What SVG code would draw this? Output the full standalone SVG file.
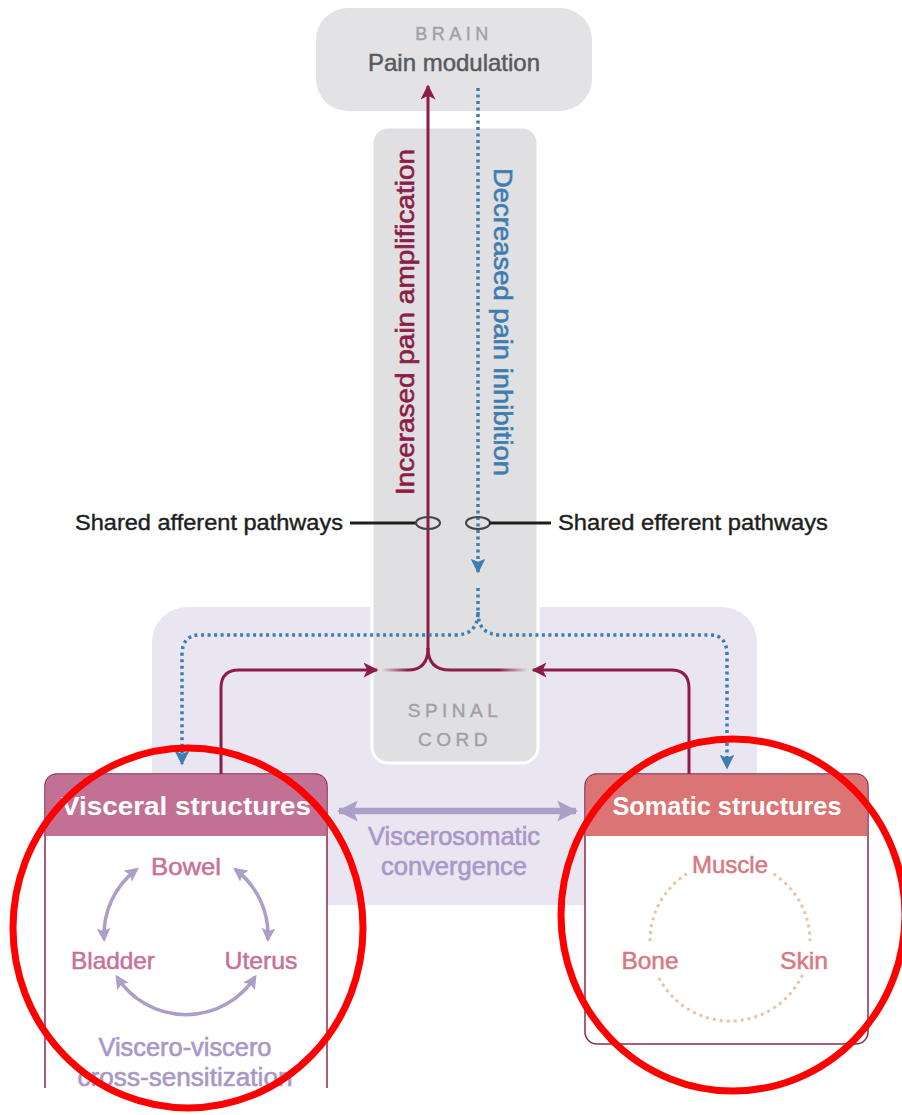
<svg xmlns="http://www.w3.org/2000/svg" width="902" height="1115" viewBox="0 0 902 1115">
<style>
text{font-family:"Liberation Sans","DejaVu Sans",sans-serif}
.crim{stroke:#8c1c48;stroke-width:3;fill:none}
.blue{stroke:#3f7db0;stroke-width:3.5;fill:none;stroke-dasharray:3 3.5}
.lav{stroke:#ad9ec8;stroke-width:3.5;fill:none}
.peach{stroke:#eac2a4;stroke-width:3;fill:none;stroke-dasharray:3 4}
.hdr{fill:#fff;font-weight:bold;font-size:26px;text-anchor:middle}
.vis{fill:#c8709a;stroke:#c8709a;stroke-width:0.5;font-size:24px;text-anchor:middle}
.som{fill:#d87880;stroke:#d87880;stroke-width:0.5;font-size:24px;text-anchor:middle}
.lavt{fill:#a898c8;stroke:#a898c8;stroke-width:0.6;font-size:25px;text-anchor:middle}
.cap{fill:#a0a0a6;stroke:#a0a0a6;stroke-width:0.4;font-size:19px;letter-spacing:4.5px;text-anchor:middle}
.shared{fill:#1e1e1e;stroke:#1e1e1e;stroke-width:0.4;font-size:22px}
.ring{fill:none;stroke:#ff0000;stroke-width:7}
</style>
<defs>
<marker id="aCrim" viewBox="0 0 10 10" refX="9" refY="5" markerWidth="6" markerHeight="5" markerUnits="strokeWidth" orient="auto"><path d="M0,0 L10,5 L0,10 L2.5,5 Z" fill="#8c1c48"/></marker>
<marker id="aBlue" viewBox="0 0 10 10" refX="9" refY="5" markerWidth="4.8" markerHeight="4.2" markerUnits="strokeWidth" orient="auto"><path d="M0,0 L10,5 L0,10 L2,5 Z" fill="#3f7db0"/></marker>
<marker id="aLav" viewBox="0 0 10 10" refX="8" refY="5" markerWidth="4.2" markerHeight="4" markerUnits="strokeWidth" orient="auto-start-reverse"><path d="M0,0 L10,5 L0,10 L2,5 Z" fill="#ad9ec8"/></marker>
<marker id="aLavBig" viewBox="0 0 10 10" refX="9" refY="5" markerWidth="3.4" markerHeight="3.2" markerUnits="strokeWidth" orient="auto-start-reverse"><path d="M0,0 L10,5 L0,10 L2,5 Z" fill="#ad9ec8"/></marker>
<linearGradient id="fadeL" gradientUnits="userSpaceOnUse" x1="381" y1="0" x2="408" y2="0"><stop offset="0" stop-color="#8c1c48" stop-opacity="0"/><stop offset="1" stop-color="#8c1c48"/></linearGradient>
<linearGradient id="fadeR" gradientUnits="userSpaceOnUse" x1="498" y1="0" x2="528" y2="0"><stop offset="0" stop-color="#8c1c48"/><stop offset="1" stop-color="#8c1c48" stop-opacity="0"/></linearGradient>
<clipPath id="crop"><rect x="0" y="0" width="902" height="1088"/></clipPath>
</defs>

<g id="background">
<rect x="152" y="607" width="605" height="298" rx="35" fill="#e9e6f1"/>
</g>

<g id="brain">
<rect x="316" y="8" width="276" height="103" rx="32" fill="#e3e3e5"/>
<text x="454" y="40" class="cap" style="font-size:18px" fill="#9a9aa2">BRAIN</text>
<text x="454" y="71" font-size="24" fill="#5a5a5e" stroke="#5a5a5e" stroke-width="0.5" text-anchor="middle" textLength="172" lengthAdjust="spacingAndGlyphs">Pain modulation</text>
</g>

<g id="spinal-cord">
<rect x="372" y="127" width="166" height="636" rx="16" fill="#e0e0e2" stroke="#ffffff" stroke-width="3"/>
<text x="455" y="717" class="cap">SPINAL</text>
<text x="455" y="746" class="cap">CORD</text>
</g>

<g id="connectors">
<path class="crim" d="M428,650 L428,86" marker-end="url(#aCrim)"/>
<path class="crim" d="M428,648 Q428,670 408,670"/>
<line x1="381" y1="670" x2="408" y2="670" stroke="url(#fadeL)" stroke-width="3"/>
<path class="crim" d="M428,648 Q428,670 450,670 L498,670"/>
<line x1="498" y1="670" x2="528" y2="670" stroke="url(#fadeR)" stroke-width="3"/>
<path class="crim" d="M221,775 L221,688 Q221,670 239,670 L377,670" marker-end="url(#aCrim)"/>
<path class="crim" d="M689,775 L689,688 Q689,670 671,670 L533,670" marker-end="url(#aCrim)"/>
<path class="blue" d="M478,88 L478,572" marker-end="url(#aBlue)"/>
<path class="blue" d="M478,588 L478,612 Q478,635 455,635 L200,635 Q182,635 182,655 L182,764" marker-end="url(#aBlue)"/>
<path class="blue" d="M478,612 Q478,635 501,635 L710,635 Q727,635 727,655 L727,768" marker-end="url(#aBlue)"/>
<line x1="350" y1="523" x2="417" y2="523" stroke="#1e1e1e" stroke-width="3"/>
<ellipse cx="428" cy="523" rx="12" ry="6" fill="none" stroke="#444" stroke-width="2"/>
<ellipse cx="478" cy="523" rx="12" ry="6" fill="none" stroke="#444" stroke-width="2"/>
<line x1="489" y1="523" x2="551" y2="523" stroke="#1e1e1e" stroke-width="3"/>
<line x1="339" y1="811" x2="576" y2="811" style="stroke:#ad9ec8;stroke-width:6.5;fill:none" marker-start="url(#aLavBig)" marker-end="url(#aLavBig)"/>
</g>

<g id="pathway-labels">
<text transform="translate(414,322) rotate(-90)" font-size="26" fill="#8c1c48" stroke="#8c1c48" stroke-width="0.6" text-anchor="middle" textLength="346" lengthAdjust="spacingAndGlyphs">Incerased pain amplification</text>
<text transform="translate(494,322) rotate(90)" font-size="26" fill="#3f7db0" stroke="#3f7db0" stroke-width="0.6" text-anchor="middle" textLength="308" lengthAdjust="spacingAndGlyphs">Decreased pain inhibition</text>
<text x="75" y="530" class="shared" textLength="268" lengthAdjust="spacingAndGlyphs">Shared afferent pathways</text>
<text x="558" y="530" class="shared" textLength="270" lengthAdjust="spacingAndGlyphs">Shared efferent pathways</text>
<text x="454" y="845" class="lavt" textLength="172" lengthAdjust="spacingAndGlyphs">Viscerosomatic</text>
<text x="454" y="875" class="lavt" textLength="146" lengthAdjust="spacingAndGlyphs">convergence</text>
</g>

<g id="visceral" clip-path="url(#crop)">
<rect x="45" y="774" width="282" height="340" rx="12" fill="#ffffff" stroke="#8c2a50" stroke-width="1.5"/>
<path d="M45.75,836 L45.75,786 Q45.75,774.75 57,774.75 L315,774.75 Q326.25,774.75 326.25,786 L326.25,836 Z" fill="#c27194"/>
<text x="186" y="815" class="hdr" textLength="250" lengthAdjust="spacingAndGlyphs">Visceral structures</text>
<text x="186" y="875" class="vis" textLength="70" lengthAdjust="spacingAndGlyphs">Bowel</text>
<text x="113" y="969" class="vis" textLength="84" lengthAdjust="spacingAndGlyphs">Bladder</text>
<text x="261" y="969" class="vis" textLength="73" lengthAdjust="spacingAndGlyphs">Uterus</text>
<path class="lav" d="M136.6,869.5 A82,82 0 0 0 104.1,939.3" marker-start="url(#aLav)" marker-end="url(#aLav)"/>
<path class="lav" d="M235.4,869.5 A82,82 0 0 1 267.9,939.3" marker-start="url(#aLav)" marker-end="url(#aLav)"/>
<path class="lav" d="M117,977 A82,82 0 0 0 255,977" marker-start="url(#aLav)" marker-end="url(#aLav)"/>
<text x="185" y="1056" class="lavt" textLength="173" lengthAdjust="spacingAndGlyphs">Viscero-viscero</text>
<text x="185" y="1086" class="lavt" textLength="215" lengthAdjust="spacingAndGlyphs">cross-sensitization</text>
</g>

<g id="somatic">
<rect x="585" y="774" width="283" height="270" rx="12" fill="#ffffff" stroke="#8c2a50" stroke-width="1.5"/>
<path d="M585.75,836 L585.75,786 Q585.75,774.75 597,774.75 L856,774.75 Q867.25,774.75 867.25,786 L867.25,836 Z" fill="#db7474"/>
<text x="727" y="815" class="hdr" textLength="229" lengthAdjust="spacingAndGlyphs">Somatic structures</text>
<path class="peach" d="M773.6,873.9 A80,80 0 0 1 810,941"/>
<path class="peach" d="M802.5,974.8 A80,80 0 0 1 658.7,977.3"/>
<path class="peach" d="M650,941 A80,80 0 0 1 687.6,873.2"/>
<text x="730" y="873" class="som" textLength="76" lengthAdjust="spacingAndGlyphs">Muscle</text>
<text x="650" y="969" class="som" textLength="57" lengthAdjust="spacingAndGlyphs">Bone</text>
<text x="804" y="969" class="som" textLength="48" lengthAdjust="spacingAndGlyphs">Skin</text>
</g>

<g id="annotations">
<ellipse class="ring" cx="188" cy="928" rx="175" ry="180"/>
<ellipse class="ring" cx="733" cy="915" rx="172" ry="176"/>
</g>
</svg>
